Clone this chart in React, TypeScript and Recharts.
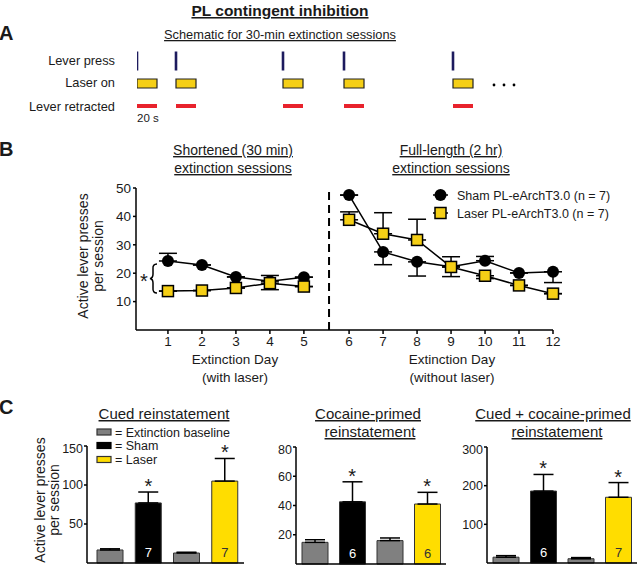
import React from 'react';
import {
  Bar,
  Cell,
  ComposedChart,
  ErrorBar,
  LabelList,
  Line,
  ReferenceArea,
  ReferenceLine,
  Scatter,
  XAxis,
  YAxis,
} from 'recharts';

// ---- Panel A: schematic (seconds from first lever press) ----
const pressTimes = [0, 39, 146, 207, 316];
const laserSeconds = 20;

// ---- Panel B: extinction days ----
const days = [1, 2, 3, 4, 5, 6, 7, 8, 9, 10, 11, 12];
const shamMeans = [24.3, 22.9, 18.7, 17.2, 18.6, 47.5, 27.5, 24.0, 22.3, 24.4, 20.1, 20.5];
const shamErrors: [number, number][] = [
  [0, 2.7], [0, 0], [0, 0], [0, 2], [0, 0], [0, 0],
  [4.5, 0], [5, 0], [3.5, 3.5], [0, 1.5], [0, 0], [3.8, 0],
];
const laserMeans = [13.7, 13.9, 14.8, 16.5, 15.3, 38.8, 33.9, 31.7, 22.2, 19.1, 15.7, 12.8];
const laserErrors: [number, number][] = [
  [0, 0], [0, 0], [0, 0], [2.3, 0], [0, 0], [0, 2.8],
  [0, 7.4], [0, 7.3], [0, 0], [1, 0], [0, 0], [0, 0],
];
const laserDays = 5; // days 1-5 with laser, rest without

// ---- Panel C: reinstatement ----
const groups = ['Baseline (sham)', 'Sham', 'Baseline (laser)', 'Laser'];
const cuedMeans = [16.7, 77, 12.8, 105];
const cuedErrors = [1.5, 14, 1.0, 29];
const cuedN = ['', '7', '', '7'];
const cocaineMeans = [14.8, 42.5, 16.0, 41.0];
const cocaineErrors = [1.8, 13.7, 1.8, 8];
const cocaineN = ['', '6', '', '6'];
const comboMeans = [15, 186, 11, 170];
const comboErrors = [4, 43, 3, 38];
const comboN = ['', '6', '', '7'];
const significant = [false, true, false, true];

const TEXT = '#1a1a1a';
const NAVY = '#1d1b5e';
const RED = '#e8222c';
const SQUARE_YELLOW = '#f5cf16';
const BAR_YELLOW = '#ffdd00';
const GRAY = '#808080';
const barColors = [GRAY, '#000', GRAY, BAR_YELLOW];
const nColors = ['#fff', '#fff', '#fff', '#333'];
const FONT = '"Liberation Sans", Arial, sans-serif';

const AXIS_GAP = 0.33; // visual break between day 5 and day 6
const dayPos = (d: number) => (d > laserDays ? d + AXIS_GAP : d);

const bData = days.map((d, i) => {
  const left = d <= laserDays;
  return {
    x: dayPos(d),
    shamL: left ? shamMeans[i] : null,
    shamR: left ? null : shamMeans[i],
    laserL: left ? laserMeans[i] : null,
    laserR: left ? null : laserMeans[i],
    shamErrL: left ? shamErrors[i] : undefined,
    shamErrR: left ? undefined : shamErrors[i],
    laserErrL: left ? laserErrors[i] : undefined,
    laserErrR: left ? undefined : laserErrors[i],
  };
});

const pressData = pressTimes.map((t) => ({ t, row: 3 }));

const PressTick = (props: any) => {
  const { cx, cy } = props;
  if (cx == null || cy == null) return <g />;
  return <line x1={cx} x2={cx} y1={cy - 9.5} y2={cy + 9.5} stroke={NAVY} strokeWidth={2.6} />;
};

const CircleDot = (props: any) => {
  const { cx, cy, index, value } = props;
  if (cx == null || cy == null || value == null) return <g key={`c${index}`} />;
  return <circle key={`c${index}`} cx={cx} cy={cy} r={6} fill="#000" />;
};

const SquareDot = (props: any) => {
  const { cx, cy, index, value } = props;
  if (cx == null || cy == null || value == null) return <g key={`s${index}`} />;
  return (
    <rect key={`s${index}`} x={cx - 5.5} y={cy - 5.5} width={11} height={11}
      fill={SQUARE_YELLOW} stroke="#000" strokeWidth={1.5} />
  );
};

const Star = (props: any) => {
  const { cx, cy, payload } = props;
  if (cx == null || cy == null || payload?.star == null) return <g />;
  return (
    <text x={cx} y={cy + 1} textAnchor="middle" fontSize={20} fill={TEXT}>*</text>
  );
};

const NLabel = (props: any) => {
  const { x, y, width, height, value, index } = props;
  if (!value) return null;
  return (
    <text x={x + width / 2} y={y + height - 6} textAnchor="middle" fontSize={13}
      fill={nColors[index] ?? '#fff'}>
      {value}
    </text>
  );
};

type ReinstatementProps = {
  means: number[];
  errors: number[];
  ns: string[];
  yMax: number;
  yTicks: number[];
  left: number;
  top: number;
  width: number;
  height: number;
  padLeft: number;
};

const ReinstatementChart = ({ means, errors, ns, yMax, yTicks, left, top, width, height, padLeft }: ReinstatementProps) => {
  const data = groups.map((g, i) => ({
    group: g,
    mean: means[i],
    err: [0, errors[i]],
    n: ns[i],
    star: significant[i] ? means[i] + errors[i] : null,
  }));
  return (
    <div style={{ position: 'absolute', left, top }}>
      <ComposedChart width={width} height={height} data={data}
        margin={{ top: 5, right: 2, bottom: 0, left: 0 }}>
        <XAxis dataKey="group" type="category" tick={false} tickLine={false} height={1}
          axisLine={{ stroke: '#000', strokeWidth: 1.5 }} padding={{ left: padLeft, right: 0 }} />
        <YAxis type="number" domain={[0, yMax]} ticks={yTicks} width={30} tickSize={3} tickMargin={1}
          tick={{ fontSize: 12.5, fill: TEXT }} axisLine={{ stroke: '#000', strokeWidth: 1.5 }}
          tickLine={{ stroke: '#000', strokeWidth: 1.5 }} />
        <Bar dataKey="mean" barSize={26} isAnimationActive={false} stroke="#333" strokeWidth={1}>
          {data.map((d, i) => (
            <Cell key={d.group} fill={barColors[i]} />
          ))}
          <ErrorBar dataKey="err" width={10} stroke="#000" strokeWidth={1.5} direction="y" />
          <LabelList dataKey="n" content={<NLabel />} />
        </Bar>
        <Scatter dataKey="star" shape={<Star />} isAnimationActive={false} />
      </ComposedChart>
    </div>
  );
};

const Overlay = () => (
  <svg width={640} height={565} style={{ position: 'absolute', left: 0, top: 0, pointerEvents: 'none' }}
    fontFamily={FONT} fill={TEXT}>
    {/* Panel A */}
    <text x={280} y={16} textAnchor="middle" fontSize={15.5} fontWeight="bold"
      style={{ textDecoration: 'underline' }}>PL contingent inhibition</text>
    <text x={-1} y={40} fontSize={20} fontWeight="bold">A</text>
    <text x={280} y={39} textAnchor="middle" fontSize={12.8}
      style={{ textDecoration: 'underline' }}>Schematic for 30-min extinction sessions</text>
    <text x={115} y={65} textAnchor="end" fontSize={12.8}>Lever press</text>
    <text x={115} y={87} textAnchor="end" fontSize={12.8}>Laser on</text>
    <text x={115} y={111} textAnchor="end" fontSize={12.8}>Lever retracted</text>
    <text x={137} y={122} fontSize={11.5}>20 s</text>
    <circle cx={494} cy={85} r={1.4} fill="#000" />
    <circle cx={504} cy={85} r={1.4} fill="#000" />
    <circle cx={514} cy={85} r={1.4} fill="#000" />

    {/* Panel B */}
    <text x={-1} y={156} fontSize={20} fontWeight="bold">B</text>
    <text x={233} y={155} textAnchor="middle" fontSize={14}
      style={{ textDecoration: 'underline' }}>Shortened (30 min)</text>
    <text x={233} y={173} textAnchor="middle" fontSize={14}
      style={{ textDecoration: 'underline' }}>extinction sessions</text>
    <text x={451} y={155} textAnchor="middle" fontSize={14}
      style={{ textDecoration: 'underline' }}>Full-length (2 hr)</text>
    <text x={451} y={173} textAnchor="middle" fontSize={14}
      style={{ textDecoration: 'underline' }}>extinction sessions</text>
    <text x={88} y={256} textAnchor="middle" fontSize={14} transform="rotate(-90 88 256)">Active lever presses</text>
    <text x={103} y={256} textAnchor="middle" fontSize={14} transform="rotate(-90 103 256)">per session</text>
    <text x={235} y={364} textAnchor="middle" fontSize={13.5}>Extinction Day</text>
    <text x={235} y={382} textAnchor="middle" fontSize={13.5}>(with laser)</text>
    <text x={452} y={364} textAnchor="middle" fontSize={13.5}>Extinction Day</text>
    <text x={452} y={382} textAnchor="middle" fontSize={13.5}>(without laser)</text>
    <text x={144} y={288} textAnchor="middle" fontSize={20}>*</text>
    <path d="M157,264 Q152.5,264 153,269 L153,274 Q153,278 150,278.5 Q153,279 153,283 L153,288 Q152.5,293 157,293"
      fill="none" stroke="#000" strokeWidth={1.5} />
    <line x1={433} x2={448} y1={195} y2={195} stroke="#000" strokeWidth={1.5} />
    <circle cx={440.5} cy={195} r={6} fill="#000" />
    <text x={457} y={199.5} fontSize={12.5}>Sham PL-eArchT3.0 (n = 7)</text>
    <line x1={433} x2={448} y1={213} y2={213} stroke="#000" strokeWidth={1.5} />
    <rect x={435} y={207.5} width={11} height={11} fill={SQUARE_YELLOW} stroke="#000" strokeWidth={1.5} />
    <text x={457} y={217.5} fontSize={12.5}>Laser PL-eArchT3.0 (n = 7)</text>

    {/* Panel C */}
    <text x={-1} y={414} fontSize={20} fontWeight="bold">C</text>
    <text x={164} y={419} textAnchor="middle" fontSize={15}
      style={{ textDecoration: 'underline' }}>Cued reinstatement</text>
    <text x={368} y={419} textAnchor="middle" fontSize={15}
      style={{ textDecoration: 'underline' }}>Cocaine-primed</text>
    <text x={370} y={437} textAnchor="middle" fontSize={15}
      style={{ textDecoration: 'underline' }}>reinstatement</text>
    <text x={553} y={419} textAnchor="middle" fontSize={15}
      style={{ textDecoration: 'underline' }}>Cued + cocaine-primed</text>
    <text x={557} y={437} textAnchor="middle" fontSize={15}
      style={{ textDecoration: 'underline' }}>reinstatement</text>
    <text x={45} y={500} textAnchor="middle" fontSize={14} transform="rotate(-90 45 500)">Active lever presses</text>
    <text x={59} y={500} textAnchor="middle" fontSize={14} transform="rotate(-90 59 500)">per session</text>
    <rect x={97} y={429} width={14} height={6} fill={GRAY} stroke="#333" strokeWidth={1.2} />
    <text x={115} y={436.5} fontSize={12.5}>= Extinction baseline</text>
    <rect x={97} y={442.5} width={14} height={6} fill="#000" stroke="#000" strokeWidth={1.2} />
    <text x={115} y={450} fontSize={12.5}>= Sham</text>
    <rect x={97} y={456.5} width={14} height={6} fill={BAR_YELLOW} stroke="#333" strokeWidth={1.2} />
    <text x={115} y={464} fontSize={12.5}>= Laser</text>
  </svg>
);

export default function App() {
  return (
    <div style={{ position: 'absolute', left: 0, top: 0, width: 640, height: 565, background: '#fff', fontFamily: FONT, overflow: 'hidden' }}>
      {/* Panel A schematic */}
      <div style={{ position: 'absolute', left: 137, top: 16 }}>
        <ComposedChart width={400} height={112.5} data={pressData} margin={{ top: 0, right: 0, bottom: 0, left: 0 }}>
          <XAxis type="number" dataKey="t" domain={[0, 400]} hide />
          <YAxis type="number" domain={[0, 5]} hide />
          {pressTimes.map((t) => (
            <ReferenceArea key={`laser-${t}`} x1={t} x2={t + laserSeconds} y1={1.8} y2={2.2}
              fill={SQUARE_YELLOW} fillOpacity={1} stroke="#222" strokeWidth={1.2} />
          ))}
          {pressTimes.map((t) => (
            <ReferenceLine key={`ret-${t}`} segment={[{ x: t, y: 1 }, { x: t + laserSeconds, y: 1 }]}
              stroke={RED} strokeWidth={4} />
          ))}
          <Scatter dataKey="row" shape={<PressTick />} isAnimationActive={false} />
        </ComposedChart>
      </div>

      {/* Panel B line chart */}
      <div style={{ position: 'absolute', left: 96, top: 180 }}>
        <ComposedChart width={470} height={175} data={bData} margin={{ top: 8, right: 13, bottom: 0, left: 0 }}>
          <XAxis type="number" dataKey="x" domain={[0.06, 12 + AXIS_GAP]} ticks={days.map(dayPos)}
            tickFormatter={(v: number) => String(Math.round(v > laserDays + 0.5 ? v - AXIS_GAP : v))}
            height={25} tickSize={4} tickMargin={2} tick={{ fontSize: 13.5, fill: TEXT }}
            axisLine={{ stroke: '#000', strokeWidth: 1.5 }} tickLine={{ stroke: '#000', strokeWidth: 1.5 }} />
          <YAxis type="number" domain={[0, 50]} ticks={[10, 20, 30, 40, 50]} width={40} tickSize={3} tickMargin={2}
            tick={{ fontSize: 13.5, fill: TEXT }} axisLine={{ stroke: '#000', strokeWidth: 1.5 }}
            tickLine={{ stroke: '#000', strokeWidth: 1.5 }} />
          <ReferenceLine x={laserDays + 0.74} stroke="#000" strokeWidth={2} strokeDasharray="8 5" />
          <Line dataKey="shamL" stroke="#000" strokeWidth={1.5} dot={CircleDot} isAnimationActive={false} connectNulls={false}>
            <ErrorBar dataKey="shamErrL" width={9} stroke="#000" strokeWidth={1.5} direction="y" />
          </Line>
          <Line dataKey="shamR" stroke="#000" strokeWidth={1.5} dot={CircleDot} isAnimationActive={false} connectNulls={false}>
            <ErrorBar dataKey="shamErrR" width={9} stroke="#000" strokeWidth={1.5} direction="y" />
          </Line>
          <Line dataKey="laserL" stroke="#000" strokeWidth={1.5} dot={SquareDot} isAnimationActive={false} connectNulls={false}>
            <ErrorBar dataKey="laserErrL" width={9} stroke="#000" strokeWidth={1.5} direction="y" />
          </Line>
          <Line dataKey="laserR" stroke="#000" strokeWidth={1.5} dot={SquareDot} isAnimationActive={false} connectNulls={false}>
            <ErrorBar dataKey="laserErrR" width={9} stroke="#000" strokeWidth={1.5} direction="y" />
          </Line>
        </ComposedChart>
      </div>

      {/* Panel C bar charts */}
      <ReinstatementChart means={cuedMeans} errors={cuedErrors} ns={cuedN} yMax={150} yTicks={[50, 100, 150]}
        left={57} top={441} width={189} height={123} padLeft={4} />
      <ReinstatementChart means={cocaineMeans} errors={cocaineErrors} ns={cocaineN} yMax={80} yTicks={[20, 40, 60, 80]}
        left={266} top={442} width={182} height={123} padLeft={0} />
      <ReinstatementChart means={comboMeans} errors={comboErrors} ns={comboN} yMax={300} yTicks={[100, 200, 300]}
        left={457} top={442} width={182} height={122} padLeft={0} />

      <Overlay />
    </div>
  );
}
